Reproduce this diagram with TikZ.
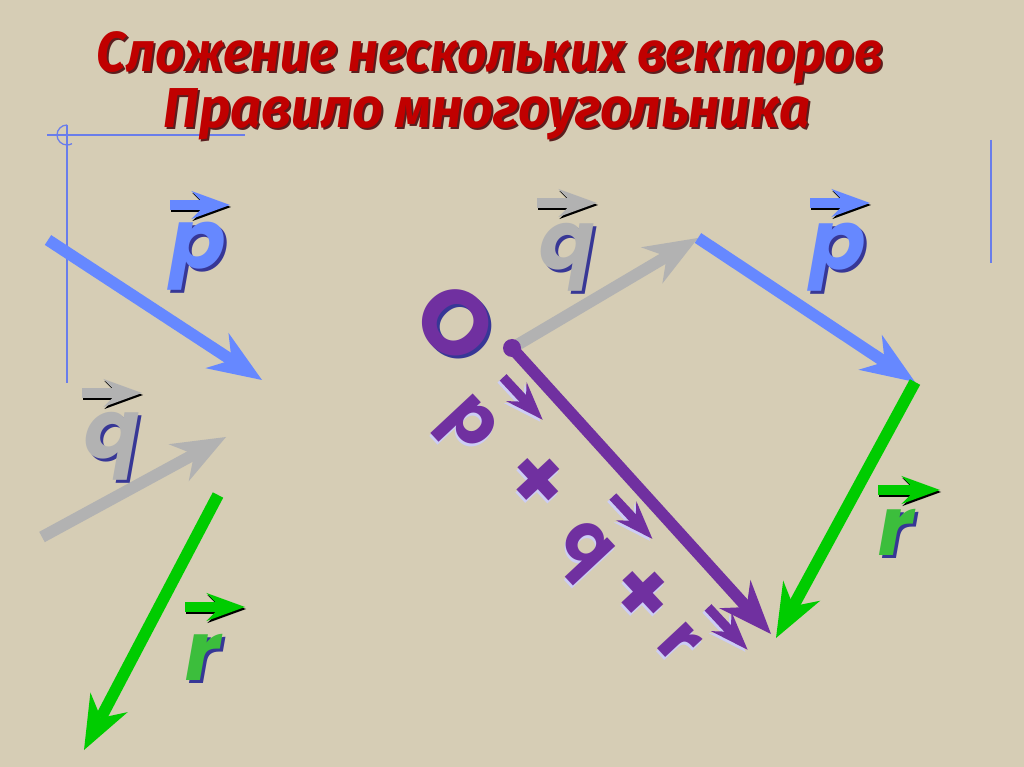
\documentclass[tikz,border=0pt]{standalone}
\usepackage{fontspec}
\newfontfamily\titlefont{Fira Sans}
\newfontfamily\vecfont{Poppins}
\usetikzlibrary{arrows.meta, positioning}
\definecolor{canvas}{RGB}{214,205,181}
\definecolor{titlered}{RGB}{192,0,0}
\definecolor{titleshade}{RGB}{90,30,30}
\definecolor{vblue}{RGB}{102,136,255}
\definecolor{vgray}{RGB}{178,178,178}
\definecolor{vgreen}{RGB}{0,204,0}
\definecolor{lgreen}{RGB}{60,190,60}
\definecolor{vpurple}{RGB}{112,48,160}
\definecolor{shade}{RGB}{55,55,150}
\definecolor{lshade}{RGB}{205,205,245}
\definecolor{guide}{RGB}{105,125,235}
\tikzset{
  x=0.03cm, y=-0.03cm,
  vec/.style={line width=10pt, -{Stealth[length=46pt, width=36pt, inset=15pt, line width=0pt]}},
  overarr/.style={line width=8pt, -{Stealth[length=33pt, width=24pt, inset=12pt, line width=0pt]}},
  lbl/.style={inner sep=0pt, font=\vecfont\bfseries\itshape\fontsize{70}{70}\selectfont},
  sumlbl/.style={inner sep=0pt, anchor=base, font=\vecfont\bfseries\fontsize{60}{60}\selectfont},
  plus/.style={sumlbl, font=\vecfont\bfseries\fontsize{76}{76}\selectfont},
  heading/.style={inner sep=0pt, anchor=base, text=titlered, font=\titlefont\bfseries\itshape\fontsize{48}{48}\selectfont},
}
\begin{document}
\begin{tikzpicture}
  \fill[canvas] (0,0) rectangle (1024,767);
  \useasboundingbox (0,0) rectangle (1024,767);

  % guide lines
  \draw[guide, line width=1.1pt] (47,135) -- (245,135) (67,125) -- (67,383) (991,140) -- (991,263);
  \draw[guide, line width=1.1pt] (67,125) arc[start angle=-90, end angle=-300, radius=10];

  % title
  \node[heading, text=titleshade] at (492,74) {\scalebox{0.92}[1]{Сложение нескольких векторов}};
  \node[heading] (title1) at (490,72) {\scalebox{0.92}[1]{Сложение нескольких векторов}};
  \node[heading, text=titleshade] at (489,130) {\scalebox{0.96}[1]{Правило многоугольника}};
  \node[heading] (title2) at (487,128) {\scalebox{0.96}[1]{Правило многоугольника}};

  % points
  \coordinate (lp1) at (48,240);  \coordinate (lp2) at (262,380);
  \coordinate (lq1) at (42,537);  \coordinate (lq2) at (226,437);
  \coordinate (lr1) at (218,495); \coordinate (lr2) at (84,750);
  \coordinate (O) at (512,348);   \coordinate (A) at (698,238);
  \coordinate (B) at (915,382);   \coordinate (C) at (776,638);

  % vectors, left
  \draw[vec, vblue] (lp1) -- (lp2);
  \draw[vec, vgray] (lq1) -- (lq2);
  \draw[vec, vgreen] (lr1) -- (lr2);

  % polygon
  \draw[vec, vgray] (O) -- (A);
  \draw[vec, vblue] (A) -- (B);
  \draw[vec, vgreen] (B) -- (C);
  \draw[vec, vpurple] (O) -- ([shift={(-5,-4)}]C);
  \fill[vpurple] (O) circle[radius=9];

  % labels, left
  \node[lbl, text=shade] at (201,259) {p};
  \node[lbl, text=vblue] (lp) at (198,256) {p};
  \draw[overarr, shade] ([shift={(-27,-49)}]lp.center) -- +(60,0);
  \draw[overarr, vblue] ([shift={(-28,-51)}]lp.center) -- +(60,0);
  \node[lbl, text=shade] at (115,449) {q};
  \node[lbl, text=vgray] (lq) at (112,446) {q};
  \draw[overarr, shade] ([shift={(-29,-51)}]lq.center) -- +(60,0);
  \draw[overarr, vgray] ([shift={(-30,-53)}]lq.center) -- +(60,0);
  \node[lbl, text=shade] at (206,660) {r};
  \node[lbl, text=lgreen] (lr) at (203,657) {r};
  \draw[overarr, shade] ([shift={(-17,-48)}]lr.center) -- +(60,0);
  \draw[overarr, vgreen] ([shift={(-18,-50)}]lr.center) -- +(60,0);

  % labels, polygon
  \node[lbl, text=shade] at (570,260) {q};
  \node[lbl, text=vgray] (q) at (567,257) {q};
  \draw[overarr, shade] ([shift={(-29,-52)}]q.center) -- +(60,0);
  \draw[overarr, vgray] ([shift={(-30,-54)}]q.center) -- +(60,0);
  \node[lbl, text=shade] at (841,260) {p};
  \node[lbl, text=vblue] (p) at (838,257) {p};
  \draw[overarr, shade] ([shift={(-27,-52)}]p.center) -- +(60,0);
  \draw[overarr, vblue] ([shift={(-28,-54)}]p.center) -- +(60,0);
  \node[lbl, text=shade] at (899,535) {r};
  \node[lbl, text=lgreen] (r) at (896,532) {r};
  \draw[overarr, shade] ([shift={(-17,-40)}]r.center) -- +(62,0);
  \draw[overarr, vgreen] ([shift={(-18,-42)}]r.center) -- +(62,0);

  \node[lbl, text=shade, rotate=-47, font=\vecfont\bfseries\fontsize{78}{78}\selectfont] at (459,326) {O};
  \node[lbl, text=vpurple, rotate=-47, font=\vecfont\bfseries\fontsize{78}{78}\selectfont] (o) at (456,323) {O};

  % sum label
  \begin{scope}[shift={(466,427)}, rotate=-47, transform shape]
    \node[sumlbl, text=lshade] at (2,14) {p};
    \node[sumlbl, text=vpurple] (sp) at (0,11) {p};
    \node[plus, text=lshade] at (90,17) {+};
    \node[plus, text=vpurple] (s1) at (88,14) {+};
    \node[sumlbl, text=lshade] at (172,14) {q};
    \node[sumlbl, text=vpurple] (sq) at (170,11) {q};
    \node[plus, text=lshade] at (244,17) {+};
    \node[plus, text=vpurple] (s2) at (242,14) {+};
    \node[sumlbl, text=lshade] at (305,14) {r};
    \node[sumlbl, text=vpurple] (sr) at (303,11) {r};
    \draw[overarr, lshade] ([shift={(-11,-69)}]sp.base) -- +(58,0);
    \draw[overarr, vpurple] ([shift={(-11,-72)}]sp.base) -- +(58,0);
    \draw[overarr, lshade] ([shift={(-19,-68)}]sq.base) -- +(58,0);
    \draw[overarr, vpurple] ([shift={(-19,-71)}]sq.base) -- +(58,0);
    \draw[overarr, lshade] ([shift={(-6,-62)}]sr.base) -- +(58,0);
    \draw[overarr, vpurple] ([shift={(-6,-65)}]sr.base) -- +(58,0);
  \end{scope}
\end{tikzpicture}
\end{document}
